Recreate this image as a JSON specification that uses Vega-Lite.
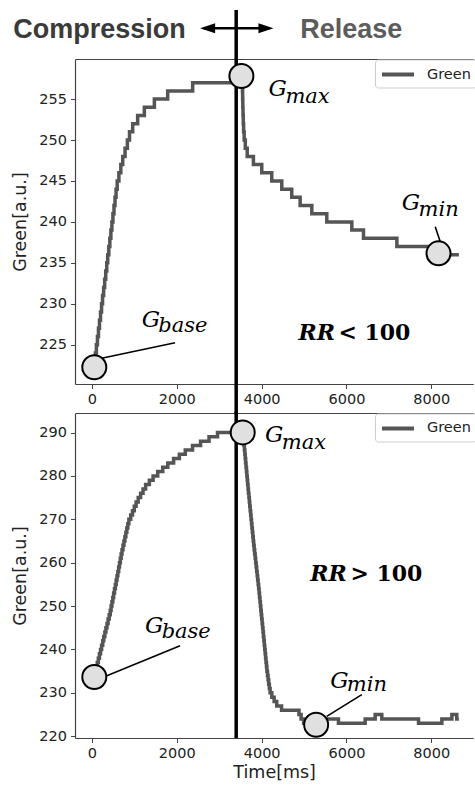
{
  "$schema": "https://vega.github.io/schema/vega-lite/v6.json",
  "padding": {"left": 11, "right": 0, "top": 8, "bottom": 0},
  "background": "white",
  "datasets": {
    "topCurve": [
      {"t":40,"G":222},{"t":55,"G":223},{"t":80,"G":224},{"t":104,"G":225},{"t":129,"G":226},{"t":153,"G":227},{"t":177,"G":228},{"t":202,"G":229},{"t":226,"G":230},{"t":250,"G":231},{"t":275,"G":232},{"t":299,"G":233},{"t":324,"G":234},{"t":348,"G":235},{"t":372,"G":236},{"t":397,"G":237},{"t":421,"G":238},{"t":446,"G":239},{"t":470,"G":240},{"t":494,"G":241},{"t":519,"G":242},{"t":543,"G":243},{"t":568,"G":244},{"t":595,"G":245},{"t":635,"G":246},{"t":680,"G":247},{"t":725,"G":248},{"t":780,"G":249},{"t":835,"G":250},{"t":885,"G":251},{"t":960,"G":252},{"t":1077,"G":253},{"t":1235,"G":254},{"t":1471,"G":255},{"t":1785,"G":256},{"t":2374,"G":257},{"t":3548,"G":256},{"t":3552,"G":255},{"t":3556,"G":254},{"t":3561,"G":253},{"t":3567,"G":252},{"t":3575,"G":251},{"t":3588,"G":250},{"t":3615,"G":249},{"t":3660,"G":248},{"t":3806,"G":247},{"t":4003,"G":246},{"t":4239,"G":245},{"t":4475,"G":244},{"t":4710,"G":243},{"t":4908,"G":242},{"t":5183,"G":241},{"t":5536,"G":240},{"t":6126,"G":239},{"t":6401,"G":238},{"t":7188,"G":237},{"t":7935,"G":236},{"t":8650,"G":236}
    ],
    "bottomCurve": [
      {"t":50,"G":234},{"t":80,"G":235},{"t":100,"G":236},{"t":125,"G":237},{"t":150,"G":238},{"t":176,"G":239},{"t":202,"G":240},{"t":227,"G":241},{"t":253,"G":242},{"t":278,"G":243},{"t":304,"G":244},{"t":329,"G":245},{"t":355,"G":246},{"t":380,"G":247},{"t":406,"G":248},{"t":431,"G":249},{"t":451,"G":250},{"t":471,"G":251},{"t":491,"G":252},{"t":511,"G":253},{"t":531,"G":254},{"t":551,"G":255},{"t":571,"G":256},{"t":591,"G":257},{"t":610,"G":258},{"t":630,"G":259},{"t":649,"G":260},{"t":669,"G":261},{"t":688,"G":262},{"t":708,"G":263},{"t":731,"G":264},{"t":754,"G":265},{"t":776,"G":266},{"t":799,"G":267},{"t":822,"G":268},{"t":845,"G":269},{"t":870,"G":270},{"t":913,"G":271},{"t":955,"G":272},{"t":998,"G":273},{"t":1040,"G":274},{"t":1090,"G":275},{"t":1147,"G":276},{"t":1204,"G":277},{"t":1265,"G":278},{"t":1353,"G":279},{"t":1441,"G":280},{"t":1550,"G":281},{"t":1669,"G":282},{"t":1788,"G":283},{"t":1925,"G":284},{"t":2061,"G":285},{"t":2200,"G":286},{"t":2371,"G":287},{"t":2560,"G":288},{"t":2760,"G":289},{"t":2960,"G":290},{"t":3568,"G":289},{"t":3577,"G":288},{"t":3585,"G":287},{"t":3594,"G":286},{"t":3604,"G":285},{"t":3613,"G":284},{"t":3623,"G":283},{"t":3632,"G":282},{"t":3642,"G":281},{"t":3651,"G":280},{"t":3661,"G":279},{"t":3670,"G":278},{"t":3680,"G":277},{"t":3689,"G":276},{"t":3700,"G":275},{"t":3710,"G":274},{"t":3720,"G":273},{"t":3730,"G":272},{"t":3741,"G":271},{"t":3751,"G":270},{"t":3761,"G":269},{"t":3771,"G":268},{"t":3781,"G":267},{"t":3792,"G":266},{"t":3802,"G":265},{"t":3812,"G":264},{"t":3824,"G":263},{"t":3836,"G":262},{"t":3848,"G":261},{"t":3859,"G":260},{"t":3871,"G":259},{"t":3883,"G":258},{"t":3895,"G":257},{"t":3906,"G":256},{"t":3918,"G":255},{"t":3930,"G":254},{"t":3940,"G":253},{"t":3950,"G":252},{"t":3961,"G":251},{"t":3971,"G":250},{"t":3981,"G":249},{"t":3991,"G":248},{"t":4001,"G":247},{"t":4012,"G":246},{"t":4022,"G":245},{"t":4032,"G":244},{"t":4042,"G":243},{"t":4052,"G":242},{"t":4063,"G":241},{"t":4073,"G":240},{"t":4083,"G":239},{"t":4093,"G":238},{"t":4103,"G":237},{"t":4114,"G":236},{"t":4124,"G":235},{"t":4138,"G":234},{"t":4152,"G":233},{"t":4166,"G":232},{"t":4182,"G":231},{"t":4200,"G":230},{"t":4240,"G":229},{"t":4295,"G":228},{"t":4356,"G":227},{"t":4470,"G":226},{"t":4880,"G":225},{"t":4930,"G":224},{"t":4990,"G":223},{"t":5500,"G":224},{"t":5811,"G":223},{"t":6441,"G":224},{"t":6677,"G":225},{"t":6833,"G":224},{"t":7699,"G":223},{"t":8249,"G":224},{"t":8485,"G":225},{"t":8600,"G":224},{"t":8650,"G":224}
    ]
  },
  "vconcat": [
    {
      "width": 398.3,
      "height": 325,
      "layer": [
        {
          "data": {"name": "topCurve"},
          "transform": [{"calculate": "'Green'", "as": "s"}],
          "mark": {"type": "line", "interpolate": "step-after", "strokeWidth": 3.5, "clip": false},
          "encoding": {
            "x": {"field": "t", "type": "quantitative", "scale": {"domain": [-400, 8990], "nice": false, "zero": false}, "axis": {"orient": "bottom", "title": null, "format": "d", "values": [0, 2000, 4000, 6000, 8000]}},
            "y": {"field": "G", "type": "quantitative", "scale": {"domain": [220.2, 259.9], "nice": false, "zero": false}, "axis": {"orient": "left", "title": "Green[a.u.]", "format": "d", "values": [225, 230, 235, 240, 245, 250, 255], "titlePadding": 9}},
            "color": {"field": "s", "type": "nominal", "scale": {"range": ["#555555"]}, "legend": {"title": null, "orient": "none", "legendX": 300, "legendY": 0.5, "symbolType": "M-1,0L3,0", "symbolSize": 256, "symbolStrokeWidth": 4, "labelFont": "DejaVu Sans", "labelFontSize": 14.5, "labelColor": "#222", "padding": 5, "fillColor": "white", "strokeColor": "#cccccc", "cornerRadius": 3, "labelOffset": 27}}
          }
        },
        {
          "data": {"values": [{"t": 3400, "G": 265.9, "G2": 216.5}]},
          "mark": {"type": "rule", "color": "black", "strokeWidth": 3.5, "clip": false},
          "encoding": {
            "x": {"field": "t", "type": "quantitative", "scale": {"domain": [-400, 8990], "nice": false, "zero": false}, "axis": {"orient": "top", "labels": false, "ticks": false, "title": null, "domain": true}},
            "y": {"field": "G", "type": "quantitative", "scale": {"domain": [220.2, 259.9], "nice": false, "zero": false}, "axis": null},
            "y2": {"field": "G2"}
          }
        },
        {
          "data": {"values": [{"t": 228, "G": 223.34, "t2": 1959, "G2": 225.24}, {"t": 8093, "G": 239.41, "t2": 8211, "G2": 237.58}]},
          "mark": {"type": "rule", "color": "black", "strokeWidth": 1.6, "clip": false},
          "encoding": {
            "x": {"field": "t", "type": "quantitative", "scale": {"domain": [-400, 8990], "nice": false, "zero": false}, "axis": null},
            "y": {"field": "G", "type": "quantitative", "scale": {"domain": [220.2, 259.9], "nice": false, "zero": false}, "axis": null},
            "x2": {"field": "t2"},
            "y2": {"field": "G2"}
          }
        },
        {
          "data": {"values": [{"t": 55, "G": 222.24}, {"t": 3523, "G": 257.82}, {"t": 8170, "G": 236.16}]},
          "mark": {"type": "point", "shape": "circle", "filled": true, "fill": "#e0e0e0", "stroke": "black", "strokeWidth": 2, "size": 576, "opacity": 1, "clip": false},
          "encoding": {
            "x": {"field": "t", "type": "quantitative", "scale": {"domain": [-400, 8990], "nice": false, "zero": false}, "axis": null},
            "y": {"field": "G", "type": "quantitative", "scale": {"domain": [220.2, 259.9], "nice": false, "zero": false}, "axis": null}
          }
        },
        {
          "data": {"values": [{"t": 4160, "G": 255.32, "label": "G"}, {"t": 7305, "G": 241.45, "label": "G"}, {"t": 1171, "G": 227.22, "label": "G"}]},
          "mark": {"type": "text", "font": "DejaVu Serif", "fontStyle": "italic", "fontSize": 23, "align": "left", "baseline": "alphabetic", "color": "black", "clip": false},
          "encoding": {
            "x": {"field": "t", "type": "quantitative", "scale": {"domain": [-400, 8990], "nice": false, "zero": false}, "axis": null},
            "y": {"field": "G", "type": "quantitative", "scale": {"domain": [220.2, 259.9], "nice": false, "zero": false}, "axis": null},
            "text": {"field": "label"}
          }
        },
        {
          "data": {"values": [{"t": 4561, "G": 254.53, "label": "max"}, {"t": 7699, "G": 240.72, "label": "min"}, {"t": 1565, "G": 226.55, "label": "base"}]},
          "mark": {"type": "text", "font": "DejaVu Serif", "fontStyle": "italic", "fontSize": 21, "align": "left", "baseline": "alphabetic", "color": "black", "clip": false},
          "encoding": {
            "x": {"field": "t", "type": "quantitative", "scale": {"domain": [-400, 8990], "nice": false, "zero": false}, "axis": null},
            "y": {"field": "G", "type": "quantitative", "scale": {"domain": [220.2, 259.9], "nice": false, "zero": false}, "axis": null},
            "text": {"field": "label"}
          }
        },
        {
          "data": {"values": [{"t": 4868, "G": 225.57, "label": "RR"}]},
          "mark": {"type": "text", "font": "DejaVu Serif", "fontStyle": "italic", "fontWeight": "bold", "fontSize": 22, "align": "left", "baseline": "alphabetic", "color": "black", "clip": false},
          "encoding": {
            "x": {"field": "t", "type": "quantitative", "scale": {"domain": [-400, 8990], "nice": false, "zero": false}, "axis": null},
            "y": {"field": "G", "type": "quantitative", "scale": {"domain": [220.2, 259.9], "nice": false, "zero": false}, "axis": null},
            "text": {"field": "label"}
          }
        },
        {
          "data": {"values": [{"t": 5811, "G": 225.57, "label": "< 100"}]},
          "mark": {"type": "text", "font": "DejaVu Serif", "fontWeight": "bold", "fontSize": 22, "align": "left", "baseline": "alphabetic", "color": "black", "clip": false},
          "encoding": {
            "x": {"field": "t", "type": "quantitative", "scale": {"domain": [-400, 8990], "nice": false, "zero": false}, "axis": null},
            "y": {"field": "G", "type": "quantitative", "scale": {"domain": [220.2, 259.9], "nice": false, "zero": false}, "axis": null},
            "text": {"field": "label"}
          }
        },
        {
          "data": {"values": [{"t": -1856, "G": 262.47, "label": "Compression"}]},
          "mark": {"type": "text", "font": "Liberation Sans", "fontWeight": "bold", "fontSize": 27, "align": "left", "baseline": "alphabetic", "color": "#3a3a3a", "clip": false},
          "encoding": {
            "x": {"field": "t", "type": "quantitative", "scale": {"domain": [-400, 8990], "nice": false, "zero": false}, "axis": null},
            "y": {"field": "G", "type": "quantitative", "scale": {"domain": [220.2, 259.9], "nice": false, "zero": false}, "axis": null},
            "text": {"field": "label"}
          }
        },
        {
          "data": {"values": [{"t": 4908, "G": 262.47, "label": "Release"}]},
          "mark": {"type": "text", "font": "Liberation Sans", "fontWeight": "bold", "fontSize": 27, "align": "left", "baseline": "alphabetic", "color": "#5c5c5c", "clip": false},
          "encoding": {
            "x": {"field": "t", "type": "quantitative", "scale": {"domain": [-400, 8990], "nice": false, "zero": false}, "axis": null},
            "y": {"field": "G", "type": "quantitative", "scale": {"domain": [220.2, 259.9], "nice": false, "zero": false}, "axis": null},
            "text": {"field": "label"}
          }
        },
        {
          "data": {"values": [{"t": 2631, "G": 263.65, "t2": 4184}]},
          "mark": {"type": "rule", "color": "black", "strokeWidth": 2.5, "clip": false},
          "encoding": {
            "x": {"field": "t", "type": "quantitative", "scale": {"domain": [-400, 8990], "nice": false, "zero": false}, "axis": null},
            "y": {"field": "G", "type": "quantitative", "scale": {"domain": [220.2, 259.9], "nice": false, "zero": false}, "axis": null},
            "x2": {"field": "t2"}
          }
        },
        {
          "data": {"values": [{"t": 2726, "G": 263.65}]},
          "mark": {"type": "point", "shape": "M-1,0L1,-0.67L1,0.67Z", "filled": true, "color": "black", "size": 225, "opacity": 1, "clip": false},
          "encoding": {
            "x": {"field": "t", "type": "quantitative", "scale": {"domain": [-400, 8990], "nice": false, "zero": false}, "axis": null},
            "y": {"field": "G", "type": "quantitative", "scale": {"domain": [220.2, 259.9], "nice": false, "zero": false}, "axis": null}
          }
        },
        {
          "data": {"values": [{"t": 4101, "G": 263.65}]},
          "mark": {"type": "point", "shape": "M1,0L-1,-0.67L-1,0.67Z", "filled": true, "color": "black", "size": 225, "opacity": 1, "clip": false},
          "encoding": {
            "x": {"field": "t", "type": "quantitative", "scale": {"domain": [-400, 8990], "nice": false, "zero": false}, "axis": null},
            "y": {"field": "G", "type": "quantitative", "scale": {"domain": [220.2, 259.9], "nice": false, "zero": false}, "axis": null}
          }
        }
      ],
      "resolve": {"axis": {"x": "independent", "y": "independent"}}
    },
    {
      "width": 398.3,
      "height": 325,
      "layer": [
        {
          "data": {"name": "bottomCurve"},
          "transform": [{"calculate": "'Green'", "as": "s"}],
          "mark": {"type": "line", "interpolate": "step-after", "strokeWidth": 3.5, "clip": false},
          "encoding": {
            "x": {"field": "t", "type": "quantitative", "scale": {"domain": [-400, 8990], "nice": false, "zero": false}, "axis": {"orient": "bottom", "title": "Time[ms]", "format": "d", "values": [0, 2000, 4000, 6000, 8000], "titlePadding": 4}},
            "y": {"field": "G", "type": "quantitative", "scale": {"domain": [219.6, 294.5], "nice": false, "zero": false}, "axis": {"orient": "left", "title": "Green[a.u.]", "format": "d", "values": [220, 230, 240, 250, 260, 270, 280, 290], "titlePadding": 9}},
            "color": {"field": "s", "type": "nominal", "scale": {"range": ["#555555"]}, "legend": {"title": null, "orient": "none", "legendX": 300, "legendY": 0.5, "symbolType": "M-1,0L3,0", "symbolSize": 256, "symbolStrokeWidth": 4, "labelFont": "DejaVu Sans", "labelFontSize": 14.5, "labelColor": "#222", "padding": 5, "fillColor": "white", "strokeColor": "#cccccc", "cornerRadius": 3, "labelOffset": 27}}
          }
        },
        {
          "data": {"values": [{"t": 3400, "G": 294.8, "G2": 219.6}]},
          "mark": {"type": "rule", "color": "black", "strokeWidth": 3.5, "clip": false},
          "encoding": {
            "x": {"field": "t", "type": "quantitative", "scale": {"domain": [-400, 8990], "nice": false, "zero": false}, "axis": {"orient": "top", "labels": false, "ticks": false, "title": null, "domain": true}},
            "y": {"field": "G", "type": "quantitative", "scale": {"domain": [219.6, 294.5], "nice": false, "zero": false}, "axis": null},
            "y2": {"field": "G2"}
          }
        },
        {
          "data": {"values": [{"t": 308, "G": 233.79, "t2": 2077, "G2": 240.87}, {"t": 5535, "G": 224.58, "t2": 6361, "G2": 229.58}]},
          "mark": {"type": "rule", "color": "black", "strokeWidth": 1.6, "clip": false},
          "encoding": {
            "x": {"field": "t", "type": "quantitative", "scale": {"domain": [-400, 8990], "nice": false, "zero": false}, "axis": null},
            "y": {"field": "G", "type": "quantitative", "scale": {"domain": [219.6, 294.5], "nice": false, "zero": false}, "axis": null},
            "x2": {"field": "t2"},
            "y2": {"field": "G2"}
          }
        },
        {
          "data": {"values": [{"t": 55, "G": 233.66}, {"t": 3554, "G": 290.03}, {"t": 5285, "G": 222.66}]},
          "mark": {"type": "point", "shape": "circle", "filled": true, "fill": "#e0e0e0", "stroke": "black", "strokeWidth": 2, "size": 576, "opacity": 1, "clip": false},
          "encoding": {
            "x": {"field": "t", "type": "quantitative", "scale": {"domain": [-400, 8990], "nice": false, "zero": false}, "axis": null},
            "y": {"field": "G", "type": "quantitative", "scale": {"domain": [219.6, 294.5], "nice": false, "zero": false}, "axis": null}
          }
        },
        {
          "data": {"values": [{"t": 4082, "G": 287.89, "label": "G"}, {"t": 5616, "G": 231.1, "label": "G"}, {"t": 1251, "G": 243.87, "label": "G"}]},
          "mark": {"type": "text", "font": "DejaVu Serif", "fontStyle": "italic", "fontSize": 23, "align": "left", "baseline": "alphabetic", "color": "black", "clip": false},
          "encoding": {
            "x": {"field": "t", "type": "quantitative", "scale": {"domain": [-400, 8990], "nice": false, "zero": false}, "axis": null},
            "y": {"field": "G", "type": "quantitative", "scale": {"domain": [219.6, 294.5], "nice": false, "zero": false}, "axis": null},
            "text": {"field": "label"}
          }
        },
        {
          "data": {"values": [{"t": 4474, "G": 286.27, "label": "max"}, {"t": 6007, "G": 230.41, "label": "min"}, {"t": 1643, "G": 242.71, "label": "base"}]},
          "mark": {"type": "text", "font": "DejaVu Serif", "fontStyle": "italic", "fontSize": 21, "align": "left", "baseline": "alphabetic", "color": "black", "clip": false},
          "encoding": {
            "x": {"field": "t", "type": "quantitative", "scale": {"domain": [-400, 8990], "nice": false, "zero": false}, "axis": null},
            "y": {"field": "G", "type": "quantitative", "scale": {"domain": [219.6, 294.5], "nice": false, "zero": false}, "axis": null},
            "text": {"field": "label"}
          }
        },
        {
          "data": {"values": [{"t": 5144, "G": 255.69, "label": "RR"}]},
          "mark": {"type": "text", "font": "DejaVu Serif", "fontStyle": "italic", "fontWeight": "bold", "fontSize": 22, "align": "left", "baseline": "alphabetic", "color": "black", "clip": false},
          "encoding": {
            "x": {"field": "t", "type": "quantitative", "scale": {"domain": [-400, 8990], "nice": false, "zero": false}, "axis": null},
            "y": {"field": "G", "type": "quantitative", "scale": {"domain": [219.6, 294.5], "nice": false, "zero": false}, "axis": null},
            "text": {"field": "label"}
          }
        },
        {
          "data": {"values": [{"t": 6094, "G": 255.69, "label": "> 100"}]},
          "mark": {"type": "text", "font": "DejaVu Serif", "fontWeight": "bold", "fontSize": 22, "align": "left", "baseline": "alphabetic", "color": "black", "clip": false},
          "encoding": {
            "x": {"field": "t", "type": "quantitative", "scale": {"domain": [-400, 8990], "nice": false, "zero": false}, "axis": null},
            "y": {"field": "G", "type": "quantitative", "scale": {"domain": [219.6, 294.5], "nice": false, "zero": false}, "axis": null},
            "text": {"field": "label"}
          }
        }
      ],
      "resolve": {"axis": {"x": "independent", "y": "independent"}}
    }
  ],
  "spacing": 29,
  "bounds": "flush",
  "resolve": {"scale": {"y": "independent", "color": "independent"}, "legend": {"color": "independent"}},
  "config": {
    "view": {"stroke": null},
    "font": "DejaVu Sans",
    "axis": {
      "grid": false,
      "domainColor": "#444444",
      "domainWidth": 1.2,
      "tickColor": "#444444",
      "tickSize": 4.5,
      "labelFont": "DejaVu Sans",
      "labelFontSize": 14.5,
      "labelColor": "#222222",
      "labelPadding": 4,
      "titleFont": "DejaVu Sans",
      "titleFontSize": 17.5,
      "titleFontWeight": "normal",
      "titleColor": "#222222"
    }
  }
}
